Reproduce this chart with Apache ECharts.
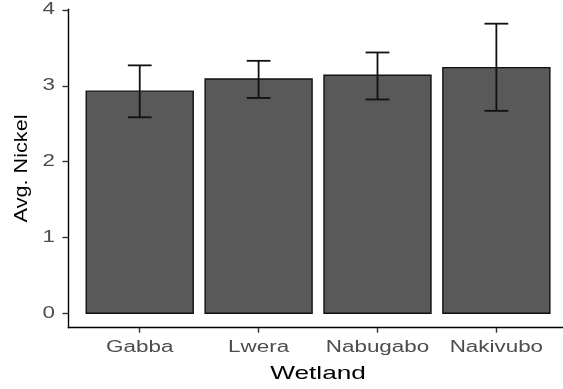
<!DOCTYPE html>
<html>
<head>
<meta charset="utf-8">
<script src="https://cdn.jsdelivr.net/npm/echarts@6/dist/echarts.min.js"></script>
<style>
  html, body { margin: 0; padding: 0; background: #fff; }
  #chart { width: 563px; height: 389px; }
</style>
</head>
<body>
<div id="chart"></div>
<script>
// Mean nickel per wetland with error-bar limits
const wetlands = ['Gabba', 'Lwera', 'Nabugabo', 'Nakivubo'];
const avgNickel = [2.93, 3.09, 3.14, 3.24];
const nickelLow = [2.585, 2.84, 2.82, 2.67];
const nickelHigh = [3.27, 3.33, 3.44, 3.82];
const yTicks = [0, 1, 2, 3, 4];
const xTitle = 'Wetland';
const yTitle = 'Avg. Nickel';

// y range padded by 5% of the data span, as in a ggplot continuous scale
const yTop = Math.max(...nickelHigh);
const yMin = -0.05 * yTop;
const yMax = yTop * 1.05;
const xPos = wetlands.map((w, i) => i + 1);

const FONT = '"Liberation Sans", Arial, sans-serif';
const tickColor = '#4D4D4D';

const chart = echarts.init(document.getElementById('chart'), null, { renderer: 'canvas' });

chart.setOption({
  animation: false,
  backgroundColor: '#ffffff',
  grid: { left: 68.4, right: -4.7, top: 9.2, bottom: 61.3, containLabel: false, outerBoundsMode: 'none' },
  xAxis: {
    type: 'value', min: 0.4, max: 4.6,
    axisLine: { show: true, onZero: false, lineStyle: { color: '#000', width: 1.4 } },
    axisTick: { show: true, customValues: xPos, length: 5, lineStyle: { color: '#333', width: 1.4 } },
    axisLabel: { show: false },
    splitLine: { show: false }
  },
  yAxis: {
    type: 'value', min: yMin, max: yMax,
    axisLine: { show: true, onZero: false, lineStyle: { color: '#000', width: 1.4 } },
    axisTick: { show: true, customValues: yTicks, length: 6, lineStyle: { color: '#333', width: 1.4 } },
    axisLabel: { show: false },
    splitLine: { show: false }
  },
  series: [
    {
      // bars
      type: 'custom', silent: true,
      data: xPos.map((x, i) => [x, avgNickel[i]]),
      renderItem: (params, api) => {
        const x = api.value(0), v = api.value(1);
        const a = api.coord([x - 0.45, v]);
        const b = api.coord([x + 0.45, 0]);
        return {
          type: 'rect',
          shape: { x: a[0], y: a[1], width: b[0] - a[0], height: b[1] - a[1] },
          style: { fill: '#595959', stroke: '#111', lineWidth: 1.4 }
        };
      }
    },
    {
      // error bars
      type: 'custom', silent: true,
      data: xPos.map((x, i) => [x, nickelLow[i], nickelHigh[i]]),
      renderItem: (params, api) => {
        const x = api.value(0), lo = api.value(1), hi = api.value(2);
        const pl = api.coord([x, lo]), ph = api.coord([x, hi]);
        const capL = api.coord([x - 0.1, lo])[0], capR = api.coord([x + 0.1, lo])[0];
        const st = { stroke: '#111', lineWidth: 1.8 };
        return {
          type: 'group',
          children: [
            { type: 'line', shape: { x1: pl[0], y1: pl[1], x2: ph[0], y2: ph[1] }, style: st },
            { type: 'line', shape: { x1: capL, y1: ph[1], x2: capR, y2: ph[1] }, style: st },
            { type: 'line', shape: { x1: capL, y1: pl[1], x2: capR, y2: pl[1] }, style: st }
          ]
        };
      }
    },
    {
      // category labels under the x axis
      type: 'custom', silent: true,
      data: xPos.map(x => [x, yMin]),
      renderItem: (params, api) => {
        const p = api.coord([api.value(0), api.value(1)]);
        return {
          type: 'text', x: p[0], y: p[1] + 20, scaleX: 1.4,
          style: { text: wetlands[params.dataIndex], fill: tickColor, font: '16px ' + FONT, align: 'center', verticalAlign: 'middle' }
        };
      }
    },
    {
      // y tick labels
      type: 'custom', silent: true,
      data: yTicks.map(v => [0.4, v]),
      renderItem: (params, api) => {
        const p = api.coord([api.value(0), api.value(1)]);
        return {
          type: 'text', x: p[0] - 13.4, y: p[1], scaleX: 1.4,
          style: { text: String(yTicks[params.dataIndex]), fill: tickColor, font: '16px ' + FONT, align: 'right', verticalAlign: 'middle' }
        };
      }
    },
    {
      // axis titles
      type: 'custom', silent: true,
      data: [[2.5, yMin]],
      renderItem: (params, api) => {
        const bottomMid = api.coord([2.5, yMin]);
        const leftMid = api.coord([0.4, (yMin + yMax) / 2]);
        return {
          type: 'group',
          children: [
            {
              type: 'text', x: bottomMid[0], y: bottomMid[1] + 46, scaleX: 1.38,
              style: { text: xTitle, fill: '#000', font: '19px ' + FONT, align: 'center', verticalAlign: 'middle' }
            },
            {
              type: 'text', x: 21.5, y: leftMid[1], rotation: Math.PI / 2, scaleX: 1.14,
              style: { text: yTitle, fill: '#000', font: '19px ' + FONT, align: 'center', verticalAlign: 'middle' }
            }
          ]
        };
      }
    }
  ]
});
</script>
</body>
</html>
